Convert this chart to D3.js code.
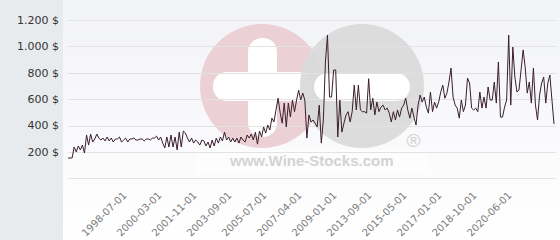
<!DOCTYPE html>
<html>
<head>
<meta charset="utf-8">
<script src="https://cdn.jsdelivr.net/npm/d3@7"></script>
<style>
  html, body { margin: 0; padding: 0; background: #fff; }
  svg { display: block; font-family: "DejaVu Sans", Verdana, sans-serif; }
</style>
</head>
<body>
<svg id="chart" width="560" height="240"></svg>
<script>
"use strict";

// price history, evenly spaced points (oldest first)
const prices = [
    154, 154, 154, 237, 200, 245, 215, 252, 192, 328,
    252, 335, 275, 298, 335, 305, 290, 305, 283, 313,
    283, 305, 275, 298, 298, 313, 275, 290, 305, 275,
    298, 298, 305, 290, 290, 298, 298, 283, 298, 298,
    290, 305, 305, 320, 290, 313, 267, 230, 313, 237,
    328, 237, 313, 215, 350, 237, 358, 343, 305, 275,
    305, 267, 290, 275, 252, 290, 283, 245, 275, 230,
    290, 245, 305, 267, 313, 283, 350, 290, 313, 275,
    305, 275, 305, 267, 313, 290, 275, 328, 305, 335,
    290, 350, 259, 358, 313, 389, 343, 404, 366, 456,
    427, 518, 607, 500, 418, 570, 389, 570, 464, 593,
    505, 593, 668, 593, 646, 593, 305, 480, 427, 442,
    418, 389, 555, 267, 442, 882, 1086, 616, 616, 821,
    821, 313, 593, 350, 418, 480, 505, 427, 505, 706,
    518, 706, 518, 505, 505, 494, 755, 518, 607, 480,
    578, 505, 540, 555, 518, 532, 494, 427, 505, 442,
    518, 464, 532, 555, 607, 518, 456, 532, 464, 404,
    555, 631, 578, 616, 540, 494, 654, 505, 578, 532,
    578, 654, 706, 607, 646, 730, 836, 616, 555, 532,
    456, 593, 505, 555, 760, 722, 532, 518, 532, 505,
    654, 532, 616, 532, 692, 593, 593, 730, 570, 882,
    464, 464, 540, 593, 1086, 555, 995, 768, 654, 669,
    821, 973, 844, 646, 730, 570, 836, 555, 442, 631,
    722, 768, 570, 722, 783, 593, 412
];
const tickIndex = [28, 45, 62, 79, 96, 113, 130, 147, 164, 181, 198, 215];
const tickLabels = ["1998-07-01", "2000-03-01", "2001-11-01", "2003-09-01",
    "2005-07-01", "2007-04-01", "2009-01-01", "2013-09-01", "2015-05-01",
    "2017-01-01", "2018-10-01", "2020-06-01"];
const yTicks = [0, 200, 400, 600, 800, 1000, 1200];

const width = 560, height = 240;
const sideWidth = 63;
const plotLeft = 68, plotRight = 554, plotTop = 20, plotBottom = 178.3;

const svg = d3.select("#chart");

const xScale = d3.scaleLinear()
    .domain([0, prices.length - 1])
    .range([plotLeft, plotRight]);
const yScale = d3.scaleLinear()
    .domain([0, 1200])
    .range([plotBottom, plotTop]);

const money = d3.formatLocale({
    decimal: ",", thousands: ".", grouping: [3], currency: ["", " $"]
}).format("$,");

// backgrounds
const defs = svg.append("defs");
const grad = defs.append("linearGradient")
    .attr("id", "plotBg").attr("x1", 0).attr("y1", 0).attr("x2", 0).attr("y2", 1);
grad.append("stop").attr("offset", "0%").attr("stop-color", "#f2f3f7");
grad.append("stop").attr("offset", "100%").attr("stop-color", "#ffffff");

svg.append("rect").attr("width", sideWidth).attr("height", height).attr("fill", "#e7ebee");
svg.append("rect").attr("x", sideWidth).attr("width", width - sideWidth)
    .attr("height", height).attr("fill", "url(#plotBg)");

// watermark logo (pink plus, grey minus)
const wm = svg.append("g").attr("class", "watermark");
defs.append("clipPath").attr("id", "pinkClip")
    .append("circle").attr("cx", 262).attr("cy", 86).attr("r", 62);

wm.append("circle").attr("cx", 262).attr("cy", 86).attr("r", 62).attr("fill", "#ebd0d6");
const plus = wm.append("g").attr("clip-path", "url(#pinkClip)");
plus.append("rect").attr("x", 248).attr("y", 38).attr("width", 29).attr("height", 99)
    .attr("rx", 14).attr("fill", "#ffffff");
plus.append("rect").attr("x", 213).attr("y", 72).attr("width", 99).attr("height", 29)
    .attr("rx", 14).attr("fill", "#ffffff");
wm.append("circle").attr("cx", 362).attr("cy", 86).attr("r", 62).attr("fill", "#dadada")
    .attr("opacity", 0.95);
wm.append("rect").attr("x", 314).attr("y", 73).attr("width", 96).attr("height", 28)
    .attr("rx", 14).attr("fill", "#ffffff");
wm.append("rect").attr("x", 197).attr("y", 150).attr("width", 230).attr("height", 23)
    .attr("fill", "#ffffff").attr("opacity", 0.6);
wm.append("text").attr("x", 230).attr("y", 166)
    .attr("font-family", "'Liberation Sans', Arial, sans-serif")
    .attr("font-weight", "bold").attr("font-size", 15)
    .attr("fill", "#d3d3d3").text("www.Wine-Stocks.com");
wm.append("text").attr("x", 413.5).attr("y", 147).attr("text-anchor", "middle")
    .attr("font-family", "'Liberation Sans', Arial, sans-serif")
    .attr("font-size", 19).attr("fill", "#d0d0d0").text("®");

// grid lines + y labels
svg.append("g").selectAll("line")
    .data(yTicks)
    .join("line")
    .attr("x1", plotLeft).attr("x2", plotRight + 2)
    .attr("y1", d => Math.round(yScale(d)) + 0.5)
    .attr("y2", d => Math.round(yScale(d)) + 0.5)
    .attr("stroke", "#e2e2e2").attr("stroke-width", 1);

svg.append("g").selectAll("text")
    .data(yTicks.filter(d => d > 0))
    .join("text")
    .attr("x", 59)
    .attr("y", d => yScale(d))
    .attr("dy", "0.35em")
    .attr("text-anchor", "end")
    .attr("font-size", 11)
    .attr("fill", "#333333")
    .text(d => money(d));

// x labels, rotated
svg.append("g").selectAll("text")
    .data(tickIndex)
    .join("text")
    .attr("transform", d => `translate(${xScale(d) + 1.5},196) rotate(-45)`)
    .attr("text-anchor", "end")
    .attr("font-size", 10)
    .attr("fill", "#7a7a7a")
    .text((d, i) => tickLabels[i]);

// the price line
const line = d3.line()
    .x((d, i) => xScale(i))
    .y(d => yScale(d));

svg.append("path")
    .datum(prices)
    .attr("d", line)
    .attr("fill", "none")
    .attr("stroke", "#3a1f2c")
    .attr("stroke-width", 1)
    .attr("stroke-linejoin", "round");
</script>
</body>
</html>
